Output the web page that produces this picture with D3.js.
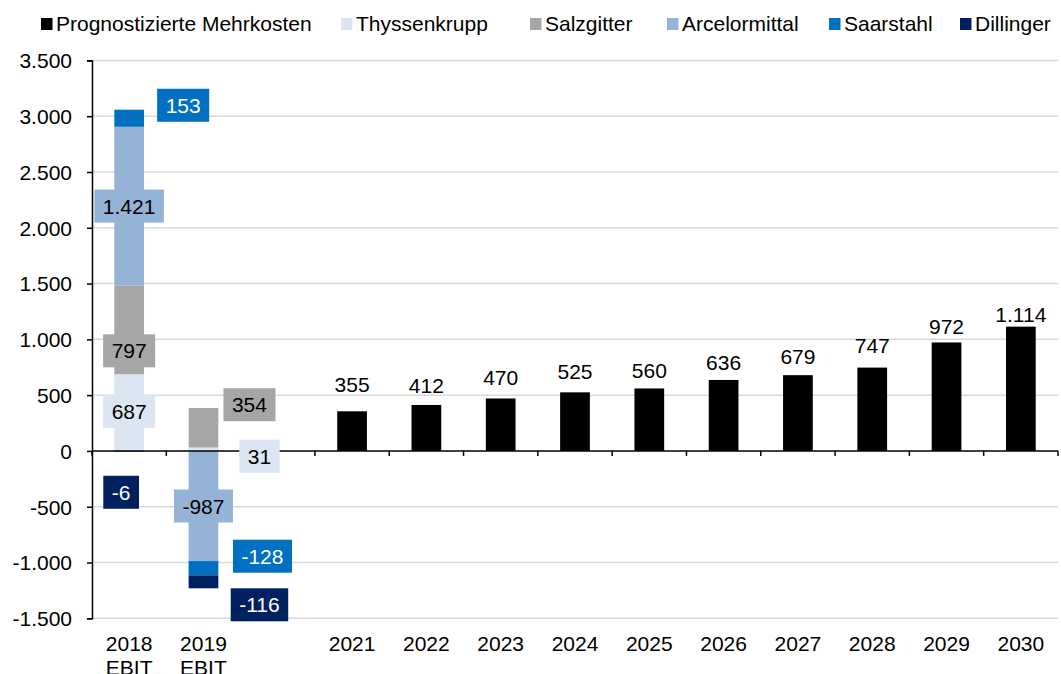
<!DOCTYPE html>
<html>
<head>
<meta charset="utf-8">
<script src="https://cdn.jsdelivr.net/npm/d3@7"></script>
<style>
    body { margin: 0; background: #ffffff; }
    svg text { font-family: "Liberation Sans", Arial, sans-serif; fill: #000000; }
</style>
</head>
<body>
<div id="chart"></div>
<script>
// Categories along the x axis (third slot is intentionally empty)
var categories = ['2018\nEBIT', '2019\nEBIT', '', '2021', '2022', '2023', '2024', '2025', '2026', '2027', '2028', '2029', '2030'];

// EBIT contributions per company, 2018 and 2019
var ebitYears     = ['2018\nEBIT', '2019\nEBIT'];
var thyssenkrupp  = [687, 31];
var salzgitter    = [797, 354];
var arcelormittal = [1421, -987];
var saarstahl     = [153, -128];
var dillinger     = [-6, -116];

// Projected additional costs 2021 - 2030
var mehrkostenYears = ['2021', '2022', '2023', '2024', '2025', '2026', '2027', '2028', '2029', '2030'];
var mehrkosten      = [355, 412, 470, 525, 560, 636, 679, 747, 972, 1114];

var yTicks = [-1500, -1000, -500, 0, 500, 1000, 1500, 2000, 2500, 3000, 3500];

// Legend / series styling
var SERIES = [
    { key: 'mehrkosten',    name: 'Prognostizierte Mehrkosten', color: '#000000', text: '#000000' },
    { key: 'thyssenkrupp',  name: 'Thyssenkrupp',  color: '#dce6f2', text: '#000000' },
    { key: 'salzgitter',    name: 'Salzgitter',    color: '#a6a6a6', text: '#000000' },
    { key: 'arcelormittal', name: 'Arcelormittal', color: '#95b3d7', text: '#000000' },
    { key: 'saarstahl',     name: 'Saarstahl',     color: '#0070c0', text: '#ffffff' },
    { key: 'dillinger',     name: 'Dillinger',     color: '#002060', text: '#ffffff' }
];
var legendX = [41, 341, 530, 667, 829, 960];

// Manually nudged label boxes (px offsets from segment centre), like in the original
var LABEL_NUDGE = {
    'thyssenkrupp|0':  [0, -1],  'salzgitter|0': [0, 21],  'arcelormittal|0': [0, 0],
    'saarstahl|0':     [54, -13], 'dillinger|0':  [-8, 41],
    'thyssenkrupp|1':  [56, 7],  'salzgitter|1': [46, -23], 'arcelormittal|1': [0, 0],
    'saarstahl|1':     [59, -12], 'dillinger|1':  [56, 23]
};
var topLabelGap = [19, 12, 13, 13, 10, 10, 11, 15, 8, 5];

var W = 1061, H = 674;
var margin = { left: 92, right: 3, top: 60.4, bottom: 55.7 };
var FONT = 21;

var de = d3.formatLocale({ decimal: ',', thousands: '.', grouping: [3], currency: ['', ' €'], minus: '-' });
var fmt = de.format(',d');

var svg = d3.select('#chart').append('svg')
    .attr('width', W)
    .attr('height', H);

var x = d3.scaleBand()
    .domain(categories)
    .range([margin.left, W - margin.right])
    .paddingInner(0.6)
    .paddingOuter(0.3);

var y = d3.scaleLinear()
    .domain([-1500, 3500])
    .range([H - margin.bottom, margin.top]);

// Gridlines
svg.append('g').selectAll('line')
    .data(yTicks.filter(function(d) { return d !== 0; }))
    .enter().append('line')
        .attr('x1', margin.left)
        .attr('x2', W - margin.right)
        .attr('y1', function(d) { return y(d); })
        .attr('y2', function(d) { return y(d); })
        .style('stroke', '#d9d9d9')
        .style('stroke-width', '1.5px');

// Stacked EBIT bars (diverging around zero)
var ebitRows = ebitYears.map(function(cat, i) {
    return { cat: cat, idx: i, thyssenkrupp: thyssenkrupp[i], salzgitter: salzgitter[i],
             arcelormittal: arcelormittal[i], saarstahl: saarstahl[i], dillinger: dillinger[i] };
});
var stackKeys = ['thyssenkrupp', 'salzgitter', 'arcelormittal', 'saarstahl', 'dillinger'];
var stacked = d3.stack()
    .keys(stackKeys)
    .offset(d3.stackOffsetDiverging)(ebitRows);

function seriesByKey(k) { return SERIES.filter(function(s) { return s.key === k; })[0]; }

var gStack = svg.append('g');
stacked.forEach(function(layer) {
    var s = seriesByKey(layer.key);
    gStack.selectAll('rect.' + layer.key)
        .data(layer)
        .enter().append('rect')
            .attr('class', layer.key)
            .attr('x', function(d) { return x(d.data.cat); })
            .attr('width', x.bandwidth())
            .attr('y', function(d) { return y(Math.max(d[0], d[1])); })
            .attr('height', function(d) { return Math.abs(y(d[0]) - y(d[1])); })
            .style('fill', s.color);
});

// Mehrkosten bars
var gTop = svg.append('g');
gTop.selectAll('rect')
    .data(mehrkosten)
    .enter().append('rect')
        .attr('x', function(d, i) { return x(mehrkostenYears[i]); })
        .attr('width', x.bandwidth())
        .attr('y', function(d) { return y(d); })
        .attr('height', function(d) { return y(0) - y(d); })
        .style('fill', '#000000');

gTop.selectAll('text')
    .data(mehrkosten)
    .enter().append('text')
        .attr('x', function(d, i) { return x(mehrkostenYears[i]) + x.bandwidth() / 2; })
        .attr('y', function(d, i) { return y(d) - topLabelGap[i]; })
        .attr('text-anchor', 'middle')
        .style('font-size', FONT + 'px')
        .text(function(d) { return fmt(d); });

// Axes: y axis on the left, x axis along zero
var yAxis = svg.append('g')
    .attr('transform', 'translate(' + margin.left + ',0)')
    .call(d3.axisLeft(y).tickValues(yTicks).tickSize(5).tickPadding(15).tickFormat(fmt));
yAxis.selectAll('path, line').style('stroke', '#000000').style('stroke-width', '1.5px');
yAxis.selectAll('text').style('font-size', FONT + 'px').attr('font-family', null).attr('dy', '0.35em');

var zeroY = y(0);
var xAxis = svg.append('g');
xAxis.append('line')
    .attr('x1', margin.left).attr('x2', W - margin.right)
    .attr('y1', zeroY).attr('y2', zeroY)
    .style('stroke', '#000000').style('stroke-width', '1.5px');
xAxis.selectAll('line.tick')
    .data(d3.range(categories.length + 1))
    .enter().append('line')
        .attr('class', 'tick')
        .attr('x1', function(i) { return margin.left + i * x.step(); })
        .attr('x2', function(i) { return margin.left + i * x.step(); })
        .attr('y1', zeroY).attr('y2', zeroY + 5)
        .style('stroke', '#000000').style('stroke-width', '1.5px');

var xLabels = svg.append('g').selectAll('text')
    .data(categories)
    .enter().append('text')
        .attr('x', function(d) { return x(d) + x.bandwidth() / 2; })
        .attr('y', 651)
        .attr('text-anchor', 'middle')
        .style('font-size', FONT + 'px');
xLabels.each(function(d) {
    var t = d3.select(this);
    d.split('\n').forEach(function(line, i) {
        t.append('tspan')
            .attr('x', t.attr('x'))
            .attr('dy', i === 0 ? 0 : 24)
            .text(line);
    });
});

// Boxed data labels for EBIT segments
var gLabels = svg.append('g');
stacked.forEach(function(layer) {
    var s = seriesByKey(layer.key);
    layer.forEach(function(d) {
        var nudge = LABEL_NUDGE[layer.key + '|' + d.data.idx] || [0, 0];
        var cx = x(d.data.cat) + x.bandwidth() / 2 + nudge[0];
        var cy = y((d[0] + d[1]) / 2) + nudge[1];
        var g = gLabels.append('g');
        var box = g.append('rect').style('fill', s.color);
        var txt = g.append('text')
            .attr('x', cx)
            .attr('y', cy)
            .attr('dy', '0.36em')
            .attr('text-anchor', 'middle')
            .style('font-size', FONT + 'px')
            .style('fill', s.text)
            .text(fmt(d.data[layer.key]));
        var tw = txt.node().getComputedTextLength();
        box.attr('x', cx - tw / 2 - 8.5)
            .attr('y', cy - 16.5)
            .attr('width', tw + 17)
            .attr('height', 33);
    });
});

// Legend
var gLegend = svg.append('g');
SERIES.forEach(function(s, i) {
    gLegend.append('rect')
        .attr('x', legendX[i])
        .attr('y', 18)
        .attr('width', 11.5)
        .attr('height', 12)
        .style('fill', s.color);
    gLegend.append('text')
        .attr('x', legendX[i] + 15)
        .attr('y', 31)
        .style('font-size', FONT + 'px')
        .text(s.name);
});
</script>
</body>
</html>
